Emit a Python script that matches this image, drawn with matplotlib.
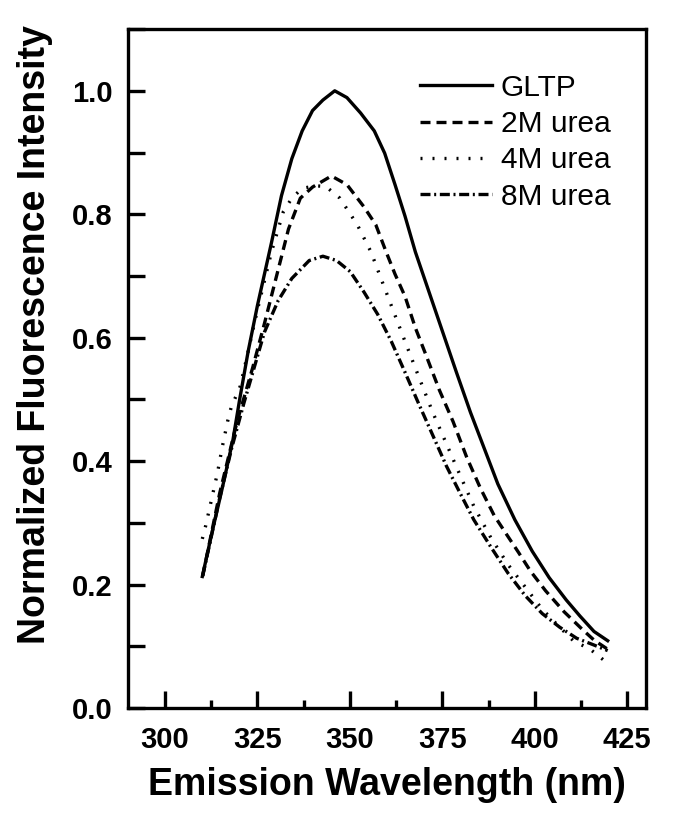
import matplotlib
matplotlib.use("Agg")
import matplotlib.pyplot as plt
from matplotlib.ticker import MultipleLocator

plt.rcParams['font.family'] = ['Liberation Sans', 'DejaVu Sans']

# Emission spectra (wavelength nm, normalized intensity)
gltp_x = [310.1, 312.9, 315.6, 318.4, 320.2, 322.5, 325.0, 328.8, 331.5, 334.3, 337.1,
          339.9, 342.7, 345.9, 349.2, 352.9, 356.6, 359.4, 362.2, 364.9, 367.7,
          371.4, 375.1, 378.8, 382.6, 386.3, 390.0, 394.6, 399.3, 403.9, 408.5,
          412.2, 416.0, 419.7]
gltp_y = [0.213, 0.289, 0.359, 0.435, 0.50, 0.578, 0.652, 0.754, 0.830, 0.890, 0.935,
          0.968, 0.985, 1.000, 0.989, 0.964, 0.935, 0.899, 0.848, 0.797, 0.739,
          0.674, 0.609, 0.544, 0.479, 0.421, 0.363, 0.305, 0.254, 0.211, 0.175,
          0.149, 0.124, 0.109]

urea2_x = [310.2, 314.8, 319.5, 323.7, 326.9, 330.6, 333.4, 336.6, 339.9, 345.0,
           349.2, 353.8, 357.0, 359.8, 362.2, 364.9, 367.7, 370.5, 374.2, 377.9,
           381.6, 385.3, 389.0, 392.5, 395.6, 398.8, 402.9, 407.9, 412.9, 416.0, 419.5]
urea2_y = [0.214, 0.348, 0.464, 0.551, 0.623, 0.710, 0.776, 0.826, 0.844, 0.862,
           0.848, 0.812, 0.783, 0.739, 0.703, 0.667, 0.616, 0.573, 0.515, 0.464,
           0.406, 0.356, 0.312, 0.280, 0.252, 0.222, 0.190, 0.156, 0.127, 0.110, 0.096]

urea4_x = [310.1, 311.0, 312.6, 314.2, 315.5, 317.0, 317.9, 320.4, 325.0, 328.8,
           332.0, 334.3, 337.1, 340.8, 343.5, 347.3, 352.0, 355.7, 358.4, 361.2,
           364.9, 368.6, 372.4, 376.1, 379.8, 383.5, 388.1, 392.8, 397.4, 402.0,
           406.7, 410.4, 415.0, 420.0]
urea4_y = [0.274, 0.295, 0.338, 0.381, 0.423, 0.466, 0.487, 0.522, 0.645, 0.739,
           0.804, 0.826, 0.842, 0.846, 0.845, 0.826, 0.783, 0.739, 0.696, 0.652,
           0.594, 0.537, 0.479, 0.428, 0.377, 0.327, 0.276, 0.232, 0.196, 0.160,
           0.131, 0.109, 0.095, 0.071]

urea8_x = [310.2, 314.8, 318.0, 321.3, 326.9, 330.6, 334.3, 339.0, 342.7, 346.4,
           350.1, 353.8, 357.5, 361.2, 364.9, 368.6, 372.4, 376.1, 379.8, 383.5,
           388.1, 392.8, 397.4, 402.0, 406.7, 411.3, 416.0, 419.7]
urea8_y = [0.214, 0.340, 0.420, 0.493, 0.609, 0.660, 0.696, 0.725, 0.732, 0.725,
           0.707, 0.674, 0.638, 0.594, 0.544, 0.493, 0.442, 0.392, 0.348, 0.305,
           0.261, 0.218, 0.182, 0.153, 0.131, 0.113, 0.102, 0.093]

labels = ["GLTP", "2M urea", "4M urea", "8M urea"]

fig = plt.figure(figsize=(6.76, 8.15), dpi=100)
ax = fig.add_axes([0.1893, 0.1313, 0.766, 0.833])

lw = 2.4
ax.plot(gltp_x, gltp_y, color='black', lw=lw, linestyle='-', label=labels[0])
ax.plot(urea2_x, urea2_y, color='black', lw=lw, linestyle=(0, (3.0, 1.8)), label=labels[1])
ax.plot(urea4_x, urea4_y, color='black', lw=lw, linestyle=(0, (0.6, 3.0)), label=labels[2])
ax.plot(urea8_x, urea8_y, color='black', lw=lw, linestyle=(0, (3.0, 1.1, 0.6, 1.1)), label=labels[3])

ax.set_xlim(290, 430)
ax.set_ylim(0, 1.1)
ax.xaxis.set_major_locator(MultipleLocator(25))
ax.xaxis.set_minor_locator(MultipleLocator(12.5))
ax.yaxis.set_major_locator(MultipleLocator(0.2))
ax.yaxis.set_minor_locator(MultipleLocator(0.1))
ax.yaxis.set_major_formatter(plt.FormatStrFormatter('%.1f'))

for s in ax.spines.values():
    s.set_linewidth(2.4)

ax.tick_params(which='both', direction='in', width=2.4, top=False, right=False)
ax.tick_params(axis='x', which='major', length=12, pad=13, labelsize=21)
ax.tick_params(axis='x', which='minor', length=6)
ax.tick_params(axis='y', which='both', length=12, pad=11, labelsize=21)
for t in ax.get_xticklabels() + ax.get_yticklabels():
    t.set_fontweight('bold')

ax.set_xlabel("Emission Wavelength (nm)", fontsize=27, fontweight='bold', labelpad=9)
ax.set_ylabel("Normalized Fluorescence Intensity", fontsize=27, fontweight='bold', labelpad=14)
ax.yaxis.set_label_coords(-0.145, 0.55)

leg = ax.legend(loc='upper right', bbox_to_anchor=(0.972, 0.965), frameon=False,
                fontsize=21.5, handlelength=2.4, handletextpad=0.3, labelspacing=0.28,
                borderaxespad=0.3)

fig.savefig("out.png", dpi=100)
